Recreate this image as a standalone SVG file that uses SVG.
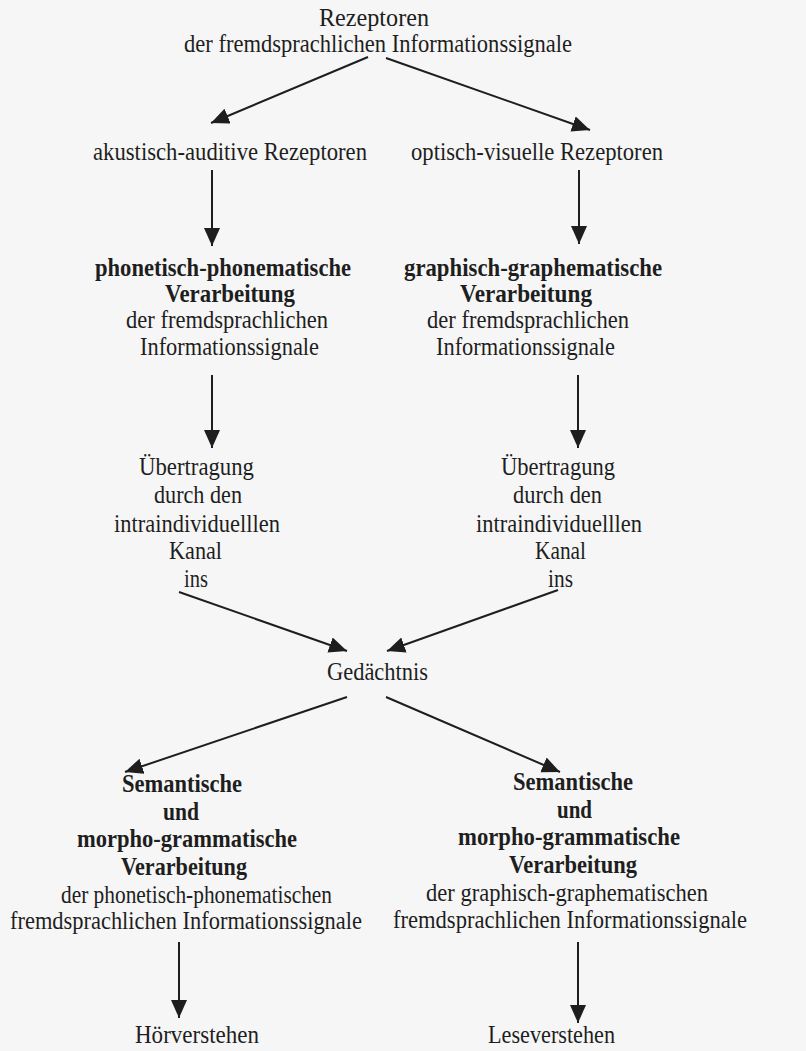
<svg xmlns="http://www.w3.org/2000/svg" width="806" height="1051" viewBox="0 0 806 1051">
<style>
text{font-family:"Liberation Serif","Times New Roman",serif;font-size:25px;fill:#1e1e1e;text-anchor:middle}
.b{font-weight:bold}
.c line{stroke:#1e1e1e;stroke-width:2;fill:none}
</style>
<defs>
<marker id="ah" markerUnits="userSpaceOnUse" markerWidth="20" markerHeight="18" refX="18" refY="8" orient="auto">
<path d="M0,0 L18,8 L0,16 z" fill="#1e1e1e"/>
</marker>
</defs>
<rect width="806" height="1051" fill="#f6f6f6"/>
<g class="c" id="connectors">
<line x1="368" y1="57" x2="211" y2="123" marker-end="url(#ah)"/>
<line x1="386" y1="58" x2="590" y2="130" marker-end="url(#ah)"/>
<line x1="212" y1="170" x2="212" y2="246" marker-end="url(#ah)"/>
<line x1="579" y1="170" x2="579" y2="244" marker-end="url(#ah)"/>
<line x1="212" y1="375" x2="212" y2="448" marker-end="url(#ah)"/>
<line x1="578" y1="375" x2="578" y2="448" marker-end="url(#ah)"/>
<line x1="179" y1="592" x2="347" y2="651" marker-end="url(#ah)"/>
<line x1="558" y1="590" x2="387" y2="651" marker-end="url(#ah)"/>
<line x1="347" y1="697" x2="125" y2="772" marker-end="url(#ah)"/>
<line x1="386" y1="697" x2="560" y2="772" marker-end="url(#ah)"/>
<line x1="179" y1="942" x2="179" y2="1018" marker-end="url(#ah)"/>
<line x1="578" y1="942" x2="578" y2="1023" marker-end="url(#ah)"/>
</g>
<g id="rezeptoren">
<text x="374" y="26" textLength="110" lengthAdjust="spacingAndGlyphs">Rezeptoren</text>
<text x="378" y="52" textLength="388" lengthAdjust="spacingAndGlyphs">der fremdsprachlichen Informationssignale</text>
</g>
<g id="akustisch">
<text x="230" y="160" textLength="274" lengthAdjust="spacingAndGlyphs">akustisch-auditive Rezeptoren</text>
</g>
<g id="optisch">
<text x="537" y="160" textLength="252" lengthAdjust="spacingAndGlyphs">optisch-visuelle Rezeptoren</text>
</g>
<g id="phon-verarbeitung">
<text class="b" x="223" y="276" textLength="256" lengthAdjust="spacingAndGlyphs">phonetisch-phonematische</text>
<text class="b" x="230" y="302" textLength="130" lengthAdjust="spacingAndGlyphs">Verarbeitung</text>
<text x="227" y="328" textLength="202" lengthAdjust="spacingAndGlyphs">der fremdsprachlichen</text>
<text x="229.5" y="355" textLength="179" lengthAdjust="spacingAndGlyphs">Informationssignale</text>
</g>
<g id="graph-verarbeitung">
<text class="b" x="533" y="276" textLength="258" lengthAdjust="spacingAndGlyphs">graphisch-graphematische</text>
<text class="b" x="526" y="302" textLength="132" lengthAdjust="spacingAndGlyphs">Verarbeitung</text>
<text x="528" y="328" textLength="202" lengthAdjust="spacingAndGlyphs">der fremdsprachlichen</text>
<text x="525.5" y="355" textLength="179" lengthAdjust="spacingAndGlyphs">Informationssignale</text>
</g>
<g id="uebertragung-links">
<text x="196.5" y="475" textLength="115" lengthAdjust="spacingAndGlyphs">Übertragung</text>
<text x="198" y="503" textLength="88" lengthAdjust="spacingAndGlyphs">durch den</text>
<text x="197" y="532" textLength="166" lengthAdjust="spacingAndGlyphs">intraindividuelllen</text>
<text x="195.5" y="559" textLength="53" lengthAdjust="spacingAndGlyphs">Kanal</text>
<text x="196" y="587" textLength="24" lengthAdjust="spacingAndGlyphs">ins</text>
</g>
<g id="uebertragung-rechts">
<text x="558" y="475" textLength="114" lengthAdjust="spacingAndGlyphs">Übertragung</text>
<text x="557.5" y="503" textLength="89" lengthAdjust="spacingAndGlyphs">durch den</text>
<text x="559" y="532" textLength="166" lengthAdjust="spacingAndGlyphs">intraindividuelllen</text>
<text x="560.5" y="559" textLength="51" lengthAdjust="spacingAndGlyphs">Kanal</text>
<text x="560.5" y="587" textLength="25" lengthAdjust="spacingAndGlyphs">ins</text>
</g>
<g id="gedaechtnis">
<text x="377.5" y="680" textLength="101" lengthAdjust="spacingAndGlyphs">Gedächtnis</text>
</g>
<g id="semantik-links">
<text class="b" x="182" y="792" textLength="120" lengthAdjust="spacingAndGlyphs">Semantische</text>
<text class="b" x="181" y="820" textLength="36" lengthAdjust="spacingAndGlyphs">und</text>
<text class="b" x="187" y="847" textLength="220" lengthAdjust="spacingAndGlyphs">morpho-grammatische</text>
<text class="b" x="184" y="875" textLength="126" lengthAdjust="spacingAndGlyphs">Verarbeitung</text>
<text x="196.5" y="903" textLength="271" lengthAdjust="spacingAndGlyphs">der phonetisch-phonematischen</text>
<text x="186" y="929" textLength="352" lengthAdjust="spacingAndGlyphs">fremdsprachlichen Informationssignale</text>
</g>
<g id="semantik-rechts">
<text class="b" x="573" y="790" textLength="120" lengthAdjust="spacingAndGlyphs">Semantische</text>
<text class="b" x="574.5" y="818" textLength="35" lengthAdjust="spacingAndGlyphs">und</text>
<text class="b" x="569" y="845" textLength="222" lengthAdjust="spacingAndGlyphs">morpho-grammatische</text>
<text class="b" x="573" y="873" textLength="128" lengthAdjust="spacingAndGlyphs">Verarbeitung</text>
<text x="567" y="901" textLength="282" lengthAdjust="spacingAndGlyphs">der graphisch-graphematischen</text>
<text x="570" y="928" textLength="354" lengthAdjust="spacingAndGlyphs">fremdsprachlichen Informationssignale</text>
</g>
<g id="hoerverstehen">
<text x="197" y="1043" textLength="124" lengthAdjust="spacingAndGlyphs">Hörverstehen</text>
</g>
<g id="leseverstehen">
<text x="551.5" y="1043" textLength="127" lengthAdjust="spacingAndGlyphs">Leseverstehen</text>
</g>
</svg>
